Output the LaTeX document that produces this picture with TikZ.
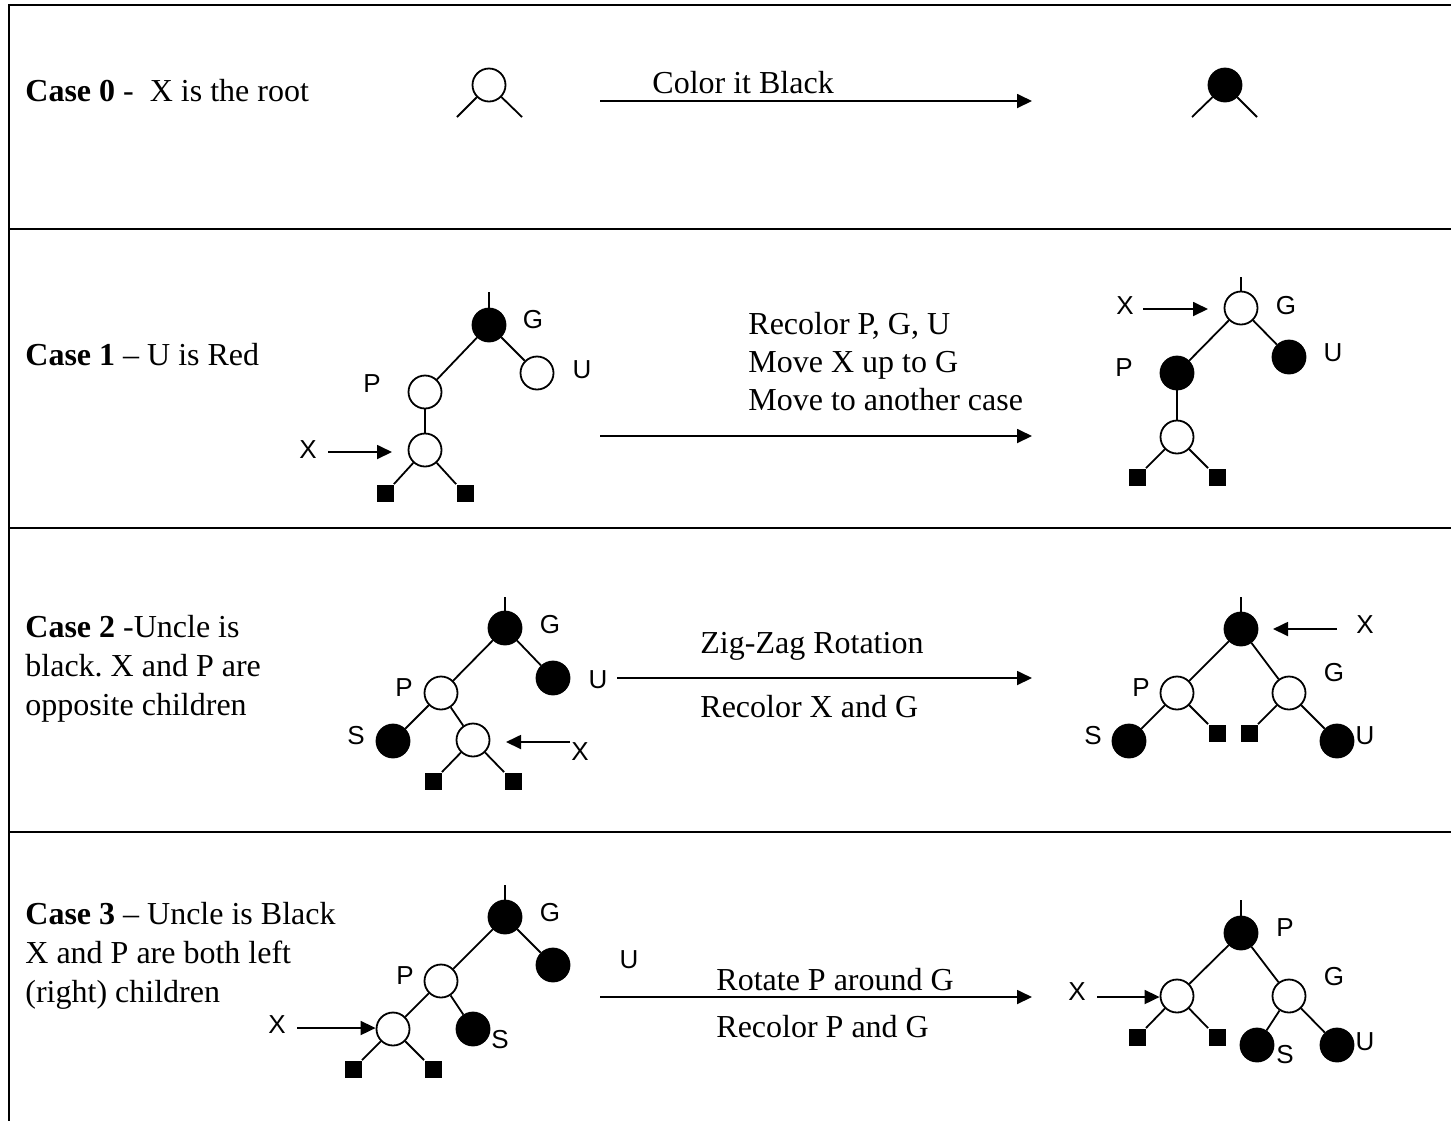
\documentclass[tikz,border=0pt]{standalone}
\usepackage{fontspec}
\setmainfont{Liberation Serif}
\newfontfamily\labfont{Liberation Sans}
\usetikzlibrary{arrows.meta}
\frenchspacing
\begin{document}
\begin{tikzpicture}[x=0.5pt,y=-0.5pt,
  wn/.style={circle,draw,line width=0.9pt,minimum size=16.5pt,inner sep=0pt,fill=white},
  bn/.style={circle,draw,fill=black,line width=0.9pt,minimum size=16.5pt,inner sep=0pt},
  leaf/.style={rectangle,fill=black,minimum size=8.5pt,inner sep=0pt},
  lab/.style={font=\labfont\fontsize{13}{15}\selectfont,inner sep=0pt},
  txt/.style={font=\fontsize{16}{19}\selectfont,anchor=base west,inner sep=0pt},
  edge/.style={line width=0.9pt},
  ptr/.style={line width=0.9pt,-{Triangle[length=7.5pt,width=7pt]}},
  rule/.style={line width=1.25pt}
]
\useasboundingbox (0,0) rectangle (1451,1121);
% table
\draw[rule] (1451,5) -- (9,5) -- (9,1121);
\draw[rule] (9,229) -- (1451,229);
\draw[rule] (9,528) -- (1451,528);
\draw[rule] (9,832) -- (1451,832);

% ---------------- Case 0
\node[txt] (t0) at (25,101) {\textbf{Case 0} -~ X is the root};
\node[wn] (r0) at (489,85) {};
\coordinate (r0l) at (457,117);
\coordinate (r0r) at (522,117);
\draw[edge] (r0) -- (r0l);
\draw[edge] (r0) -- (r0r);
\node[bn] (r0b) at (1225,85) {};
\coordinate (r0bl) at (1192,117);
\coordinate (r0br) at (1257,117);
\draw[edge] (r0b) -- (r0bl);
\draw[edge] (r0b) -- (r0br);
\coordinate (a0s) at (600,101);
\coordinate (a0e) at (1032,101);
\draw[ptr] (a0s) -- (a0e);
\node[txt] (c0) at (652,93) {Color it Black};

% ---------------- Case 1
\node[txt] (t1) at (25,365) {\textbf{Case 1} – U is Red};
\node[bn] (g1) at (489,325) {};
\node[wn] (u1) at (537,373) {};
\node[wn] (p1) at (425,392) {};
\node[wn] (x1) at (425,450) {};
\node[leaf] (l1a) at (385,493) {};
\node[leaf] (l1b) at (465,493) {};
\coordinate (g1s) at (489,292);
\draw[edge] (g1) -- (g1s);
\draw[edge] (g1) -- (p1);
\draw[edge] (g1) -- (u1);
\draw[edge] (p1) -- (x1);
\draw[edge] (x1) -- (l1a.north east);
\draw[edge] (x1) -- (l1b.north west);
\node[lab] (g1t) at (533,320) {G};
\node[lab] (u1t) at (582,370) {U};
\node[lab] (p1t) at (372,384) {P};
\node[lab] (x1t) at (308,450) {X};
\coordinate (x1a) at (328,452);
\coordinate (x1b) at (392,452);
\draw[ptr] (x1a) -- (x1b);
\coordinate (a1s) at (600,436);
\coordinate (a1e) at (1032,436);
\draw[ptr] (a1s) -- (a1e);
\node[txt] (c1a) at (748,334) {Recolor P, G, U};
\node[txt] (c1b) at (748,372) {Move X up to G};
\node[txt] (c1c) at (748,410) {Move to another case};
% right
\node[wn] (g1r) at (1241,308) {};
\node[bn] (u1r) at (1289,357) {};
\node[bn] (p1r) at (1177,373) {};
\node[wn] (x1r) at (1177,437) {};
\node[leaf] (l1ra) at (1137,477) {};
\node[leaf] (l1rb) at (1217,477) {};
\coordinate (g1rs) at (1241,277);
\draw[edge] (g1r) -- (g1rs);
\draw[edge] (g1r) -- (p1r);
\draw[edge] (g1r) -- (u1r);
\draw[edge] (p1r) -- (x1r);
\draw[edge] (x1r) -- (l1ra.north east);
\draw[edge] (x1r) -- (l1rb.north west);
\node[lab] (g1rt) at (1286,306) {G};
\node[lab] (u1rt) at (1333,353) {U};
\node[lab] (p1rt) at (1124,368) {P};
\node[lab] (x1rt) at (1125,306) {X};
\coordinate (x1ra) at (1143,309);
\coordinate (x1rb) at (1208,309);
\draw[ptr] (x1ra) -- (x1rb);

% ---------------- Case 2
\node[txt] (t2a) at (25,637) {\textbf{Case 2} -Uncle is};
\node[txt] (t2b) at (25,676) {black. X and P are};
\node[txt] (t2c) at (25,715) {opposite children};
\node[bn] (g2) at (505,628) {};
\node[bn] (u2) at (553,678) {};
\node[wn] (p2) at (441,693) {};
\node[bn] (s2) at (393,741) {};
\node[wn] (x2) at (473,740) {};
\node[leaf] (l2a) at (433,781) {};
\node[leaf] (l2b) at (513,781) {};
\coordinate (g2s) at (505,597);
\draw[edge] (g2) -- (g2s);
\draw[edge] (g2) -- (p2);
\draw[edge] (g2) -- (u2);
\draw[edge] (p2) -- (s2);
\draw[edge] (p2) -- (x2);
\draw[edge] (x2) -- (l2a.north east);
\draw[edge] (x2) -- (l2b.north west);
\node[lab] (g2t) at (550,625) {G};
\node[lab] (u2t) at (598,680) {U};
\node[lab] (p2t) at (404,688) {P};
\node[lab] (s2t) at (356,736) {S};
\node[lab] (x2t) at (580,752) {X};
\coordinate (x2a) at (570,742);
\coordinate (x2b) at (506,742);
\draw[ptr] (x2a) -- (x2b);
\coordinate (a2s) at (617,678);
\coordinate (a2e) at (1032,678);
\draw[ptr] (a2s) -- (a2e);
\node[txt] (c2a) at (700,653) {Zig-Zag Rotation};
\node[txt] (c2b) at (700,717) {Recolor X and G};
% right
\node[bn] (t2r) at (1241,629) {};
\node[wn] (p2r) at (1177,693) {};
\node[wn] (g2r) at (1289,693) {};
\node[bn] (s2r) at (1129,741) {};
\node[bn] (u2r) at (1337,741) {};
\node[leaf] (l2ra) at (1217,733) {};
\node[leaf] (l2rb) at (1249,733) {};
\coordinate (t2rs) at (1241,597);
\draw[edge] (t2r) -- (t2rs);
\draw[edge] (t2r) -- (p2r);
\draw[edge] (t2r) -- (g2r);
\draw[edge] (p2r) -- (s2r);
\draw[edge] (p2r) -- (l2ra.north west);
\draw[edge] (g2r) -- (l2rb.north east);
\draw[edge] (g2r) -- (u2r);
\node[lab] (p2rt) at (1141,688) {P};
\node[lab] (g2rt) at (1334,673) {G};
\node[lab] (s2rt) at (1093,736) {S};
\node[lab] (u2rt) at (1365,736) {U};
\node[lab] (x2rt) at (1365,625) {X};
\coordinate (x2ra) at (1337,629);
\coordinate (x2rb) at (1273,629);
\draw[ptr] (x2ra) -- (x2rb);

% ---------------- Case 3
\node[txt] (t3a) at (25,924) {\textbf{Case 3} – Uncle is Black};
\node[txt] (t3b) at (25,963) {X and P are both left};
\node[txt] (t3c) at (25,1002) {(right) children};
\node[bn] (g3) at (505,917) {};
\node[bn] (u3) at (553,965) {};
\node[wn] (p3) at (441,981) {};
\node[bn] (s3) at (473,1029) {};
\node[wn] (x3) at (393,1029) {};
\node[leaf] (l3a) at (353,1069) {};
\node[leaf] (l3b) at (433,1069) {};
\coordinate (g3s) at (505,885);
\draw[edge] (g3) -- (g3s);
\draw[edge] (g3) -- (p3);
\draw[edge] (g3) -- (u3);
\draw[edge] (p3) -- (x3);
\draw[edge] (p3) -- (s3);
\draw[edge] (x3) -- (l3a.north east);
\draw[edge] (x3) -- (l3b.north west);
\node[lab] (g3t) at (550,913) {G};
\node[lab] (u3t) at (629,960) {U};
\node[lab] (p3t) at (405,976) {P};
\node[lab] (s3t) at (500,1040) {S};
\node[lab] (x3t) at (277,1025) {X};
\coordinate (x3a) at (297,1028);
\draw[ptr] (x3a) -- (x3.west |- x3a);
\coordinate (a3s) at (600,997);
\coordinate (a3e) at (1032,997);
\draw[ptr] (a3s) -- (a3e);
\node[txt] (c3a) at (716,990) {Rotate P around G};
\node[txt] (c3b) at (716,1037) {Recolor P and G};
% right
\node[bn] (p3r) at (1241,933) {};
\node[wn] (x3r) at (1177,996) {};
\node[wn] (g3r) at (1289,996) {};
\node[bn] (s3r) at (1257,1045) {};
\node[bn] (u3r) at (1337,1045) {};
\node[leaf] (l3ra) at (1137,1037) {};
\node[leaf] (l3rb) at (1217,1037) {};
\coordinate (p3rs) at (1241,900);
\draw[edge] (p3r) -- (p3rs);
\draw[edge] (p3r) -- (x3r);
\draw[edge] (p3r) -- (g3r);
\draw[edge] (g3r) -- (s3r);
\draw[edge] (g3r) -- (u3r);
\draw[edge] (x3r) -- (l3ra.north east);
\draw[edge] (x3r) -- (l3rb.north west);
\node[lab] (p3rt) at (1285,928) {P};
\node[lab] (g3rt) at (1334,977) {G};
\node[lab] (s3rt) at (1285,1055) {S};
\node[lab] (u3rt) at (1365,1042) {U};
\node[lab] (x3rt) at (1077,992) {X};
\coordinate (x3ra) at (1097,997);
\draw[ptr] (x3ra) -- (x3r.west |- x3ra);
\end{tikzpicture}
\end{document}
